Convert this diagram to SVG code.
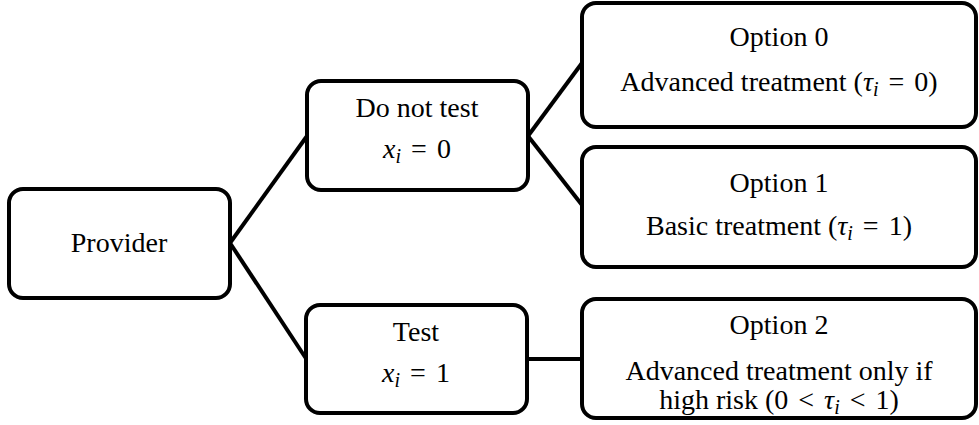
<svg xmlns="http://www.w3.org/2000/svg" width="979" height="425" viewBox="0 0 979 425">
<style>
.box{fill:#fff;stroke:#000;stroke-width:4;}
.ln{stroke:#000;stroke-width:4;fill:none;}
text{font-family:"Liberation Serif","Times New Roman",serif;font-size:28px;fill:#000;text-anchor:middle;}
.m{font-style:italic;}
.s{font-size:20px;font-style:italic;}
</style>
<rect width="979" height="425" fill="#fff"/>
<g id="connectors">
<line class="ln" x1="230" y1="243" x2="307" y2="136"/>
<line class="ln" x1="230" y1="243" x2="307" y2="360"/>
<line class="ln" x1="528" y1="136" x2="582" y2="63"/>
<line class="ln" x1="528" y1="136" x2="582" y2="205"/>
<line class="ln" x1="527" y1="359" x2="582" y2="359"/>
</g>
<g id="provider">
<rect class="box" x="9" y="189" width="221" height="109" rx="14"/>
<text x="119" y="252">Provider</text>
</g>
<g id="donottest">
<rect class="box" x="307" y="81" width="221" height="109" rx="14"/>
<text x="417" y="117">Do not test</text>
<text x="417" y="158"><tspan class="m">x</tspan><tspan class="s" dy="5">i</tspan><tspan dy="-5" dx="3">&#160;=&#160;</tspan><tspan dx="3">0</tspan></text>
</g>
<g id="test">
<rect class="box" x="306" y="305" width="221" height="108" rx="14"/>
<text x="416" y="341">Test</text>
<text x="416" y="382"><tspan class="m">x</tspan><tspan class="s" dy="5">i</tspan><tspan dy="-5" dx="3">&#160;=&#160;</tspan><tspan dx="3">1</tspan></text>
</g>
<g id="option0">
<rect class="box" x="582" y="3" width="394" height="124" rx="14"/>
<text x="779" y="46">Option 0</text>
<text x="779" y="91">Advanced treatment (<tspan class="m">τ</tspan><tspan class="s" dy="5">i</tspan><tspan dy="-5" dx="3">&#160;=&#160;</tspan><tspan dx="3">0)</tspan></text>
</g>
<g id="option1">
<rect class="box" x="582" y="147" width="394" height="120" rx="14"/>
<text x="779" y="192">Option 1</text>
<text x="779" y="235">Basic treatment (<tspan class="m">τ</tspan><tspan class="s" dy="5">i</tspan><tspan dy="-5" dx="3">&#160;=&#160;</tspan><tspan dx="3">1)</tspan></text>
</g>
<g id="option2">
<rect class="box" x="582" y="299" width="394" height="119" rx="14"/>
<text x="779" y="334">Option 2</text>
<text x="779" y="380">Advanced treatment only if</text>
<text x="779" y="409">high risk (0<tspan dx="3">&#160;&lt;&#160;</tspan><tspan class="m" dx="3">τ</tspan><tspan class="s" dy="5">i</tspan><tspan dy="-5" dx="3">&#160;&lt;&#160;</tspan><tspan dx="3">1)</tspan></text>
</g>
</svg>
